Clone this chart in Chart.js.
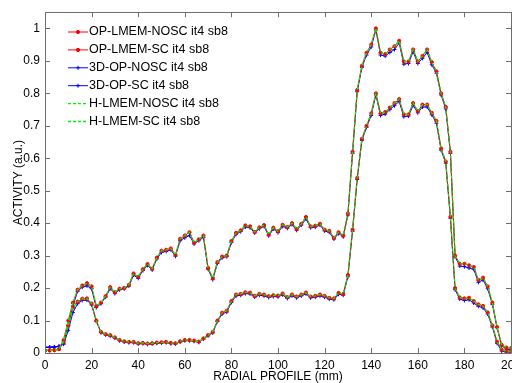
<!DOCTYPE html>
<html>
<head>
<meta charset="utf-8">
<script src="https://cdn.jsdelivr.net/npm/chart.js@4/dist/chart.umd.min.js"></script>
<style>
  html, body { margin: 0; padding: 0; background: #fff; overflow: hidden; }
  #wrap { width: 530px; height: 383px; }
</style>
</head>
<body>
<div id="wrap"><canvas id="chartjs-0" width="530" height="383"></canvas></div>
<script>
// radial positions (mm)
var xs = [0,2,4,6,8,10,12,14,16,18,20,22,24,26,28,30,32,34,36,38,
  40,42,44,46,48,50,52,54,56,58,60,62,64,66,68,70,72,74,76,78,
  80,82,84,86,88,90,92,94,96,98,100,102,104,106,108,110,112,114,116,118,
  120,122,124,126,128,130,132,134,136,138,140,142,144,146,148,150,152,154,156,158,
  160,162,164,166,168,170,172,174,176,178,180,182,184,186,188,190,192,194,196,198,200];

// OP-LMEM (red)
var lmemNosc = [.008,.008,.009,.012,.04,.10,.155,.195,.208,.215,
  .205,.145,.155,.175,.203,.187,.198,.20,.21,.245,
  .235,.258,.274,.26,.294,.315,.318,.322,.302,.352,
  .362,.372,.34,.35,.362,.262,.231,.28,.297,.30,
  .345,.37,.378,.393,.39,.373,.387,.394,.365,.386,
  .375,.395,.388,.40,.382,.398,.419,.39,.392,.398,
  .38,.376,.355,.372,.362,.43,.62,.81,.885,.925,
  .95,1.0,.925,.921,.935,.945,.962,.898,.898,.935,
  .898,.915,.935,.896,.868,.80,.758,.62,.30,.275,
  .275,.27,.265,.225,.232,.205,.155,.08,.025,.017,
  .015];
var lmemSc = [.008,.008,.009,.012,.035,.085,.14,.158,.167,.168,
  .152,.10,.065,.058,.055,.048,.04,.036,.034,.034,
  .03,.031,.029,.03,.032,.033,.034,.031,.03,.036,
  .04,.04,.038,.035,.045,.055,.065,.10,.124,.13,
  .16,.18,.182,.187,.186,.176,.182,.18,.175,.178,
  .177,.183,.172,.18,.174,.18,.186,.174,.176,.18,
  .176,.17,.168,.185,.182,.24,.38,.54,.66,.70,
  .738,.80,.738,.742,.756,.77,.782,.735,.735,.77,
  .745,.765,.765,.74,.715,.63,.59,.42,.20,.171,
  .168,.17,.16,.15,.145,.125,.085,.035,.01,.006,
  .006];

// 3D-OP (blue)
var op3dNosc = [.018,.018,.019,.021,.03,.085,.145,.19,.203,.207,
  .198,.14,.152,.172,.198,.183,.195,.198,.206,.24,
  .23,.254,.27,.256,.29,.31,.313,.318,.298,.346,
  .355,.362,.336,.346,.356,.258,.226,.276,.293,.297,
  .34,.366,.374,.388,.386,.37,.383,.39,.361,.382,
  .371,.39,.384,.396,.378,.394,.413,.386,.388,.394,
  .376,.372,.351,.368,.358,.425,.615,.805,.88,.918,
  .943,.995,.918,.915,.926,.935,.955,.89,.892,.928,
  .892,.908,.926,.888,.862,.795,.752,.615,.297,.268,
  .266,.262,.258,.218,.225,.198,.15,.078,.022,.012,
  .01];
var op3dSc = [.017,.018,.018,.02,.027,.07,.125,.152,.162,.163,
  .148,.098,.063,.056,.052,.046,.038,.034,.032,.032,
  .028,.029,.027,.028,.03,.031,.032,.029,.028,.034,
  .038,.038,.036,.033,.043,.053,.062,.097,.12,.126,
  .156,.176,.178,.183,.182,.172,.178,.176,.171,.174,
  .173,.179,.168,.176,.17,.176,.182,.17,.172,.176,
  .172,.166,.164,.181,.178,.235,.375,.535,.655,.695,
  .732,.795,.732,.736,.75,.762,.775,.728,.73,.763,
  .74,.758,.758,.734,.708,.625,.585,.415,.195,.166,
  .162,.164,.154,.144,.139,.12,.08,.03,.006,.003,
  .003];

// H-LMEM (green) - sits right on the OP-LMEM curves
var hlmemNosc = lmemNosc;
var hlmemSc = lmemSc;

var seriesNames = ["OP-LMEM-NOSC it4 sb8", "OP-LMEM-SC it4 sb8", "3D-OP-NOSC it4 sb8",
  "3D-OP-SC it4 sb8", "H-LMEM-NOSC it4 sb8", "H-LMEM-SC it4 sb8"];
var seriesValues = [lmemNosc, lmemSc, op3dNosc, op3dSc, hlmemNosc, hlmemSc];
var seriesColors = ["#ff0000", "#ff0000", "#0000ff", "#0000ff", "#00ee00", "#00ee00"];
var seriesMarkers = ["circle", "circle", "cross", "cross", false, false];

var xTicks = [0, 20, 40, 60, 80, 100, 120, 140, 160, 180, 200];
var yTicks = [0, 0.1, 0.2, 0.3, 0.4, 0.5, 0.6, 0.7, 0.8, 0.9, 1];
var yTickLabels = ["0", "0.1", "0.2", "0.3", "0.4", "0.5", "0.6", "0.7", "0.8", "0.9", "1"];

var FONT = "'Liberation Sans', Arial, sans-serif";

function toPoints(vals) {
  var pts = [];
  for (var i = 0; i < xs.length; i++) pts.push({ x: xs[i], y: vals[i] });
  return pts;
}

var datasets = [];
for (var i = 0; i < seriesNames.length; i++) {
  var isGreen = seriesMarkers[i] === false;
  datasets.push({
    label: seriesNames[i],
    data: toPoints(seriesValues[i]),
    borderColor: seriesColors[i],
    backgroundColor: seriesColors[i],
    borderWidth: isGreen ? 1.3 : 1,
    borderDash: isGreen ? [3, 2] : [],
    pointStyle: isGreen ? false : seriesMarkers[i],
    pointRadius: isGreen ? 0 : (seriesMarkers[i] === "cross" ? 2 : 1.6),
    pointBorderWidth: 1,
    tension: 0,
    order: isGreen ? 0 : (seriesColors[i] === "#ff0000" ? 1 : 2)
  });
}

// matlab style box, inward ticks and legend inside the axes
var matlabFrame = {
  id: "matlabFrame",
  afterDraw: function(chart) {
    var ctx = chart.ctx, a = chart.chartArea;
    var xs_ = chart.scales.x, ys_ = chart.scales.y;
    ctx.save();
    ctx.strokeStyle = "#6e6e6e";
    ctx.lineWidth = 1;
    ctx.beginPath();
    ctx.rect(Math.round(a.left) + 0.5, Math.round(a.top) + 0.5, Math.round(a.right - a.left), Math.round(a.bottom - a.top));
    xTicks.forEach(function(v) {
      var px = Math.round(xs_.getPixelForValue(v)) + 0.5;
      ctx.moveTo(px, a.bottom); ctx.lineTo(px, a.bottom - 5);
      ctx.moveTo(px, a.top); ctx.lineTo(px, a.top + 5);
    });
    yTicks.forEach(function(v) {
      var py = Math.round(ys_.getPixelForValue(v)) + 0.5;
      ctx.moveTo(a.left, py); ctx.lineTo(a.left + 5, py);
      ctx.moveTo(a.right, py); ctx.lineTo(a.right - 5, py);
    });
    ctx.stroke();

    // legend
    ctx.font = "12.5px " + FONT;
    ctx.textBaseline = "middle";
    ctx.fillStyle = "#000";
    chart.data.datasets.forEach(function(ds, k) {
      var ly = 32 + k * 17.9;
      ctx.strokeStyle = ds.borderColor;
      ctx.lineWidth = ds.borderWidth;
      ctx.setLineDash(ds.borderDash);
      ctx.beginPath(); ctx.moveTo(68, ly); ctx.lineTo(88, ly); ctx.stroke();
      ctx.setLineDash([]);
      if (ds.pointStyle) {
        Chart.helpers.drawPoint(ctx, { pointStyle: ds.pointStyle, radius: ds.pointRadius, borderWidth: 1, rotation: 0 }, 78, ly);
        if (ds.pointStyle === "circle") { ctx.fillStyle = ds.borderColor; ctx.beginPath(); ctx.arc(78, ly, 1.6, 0, Math.PI * 2); ctx.fill(); }
      }
      ctx.fillStyle = "#000";
      ctx.fillText(ds.label, 89, ly);
    });
    ctx.restore();
  }
};

var ctx = document.getElementById("chartjs-0");
var myChart = new Chart(ctx, {
  type: "line",
  data: { datasets: datasets },
  options: {
    responsive: false,
    animation: false,
    events: [],
    layout: { autoPadding: false, padding: { top: 10, right: 19, left: 0, bottom: 0 } },
    plugins: { legend: { display: false }, tooltip: { enabled: false } },
    scales: {
      x: {
        type: "linear", min: 0, max: 200,
        afterBuildTicks: function(s) { s.ticks = xTicks.map(function(v) { return { value: v }; }); },
        afterFit: function(s) { s.height = 30; },
        grid: { display: false, drawTicks: false },
        border: { display: false },
        ticks: { color: "#000", font: { family: FONT, size: 12 }, padding: 5, maxRotation: 0, autoSkip: false },
        title: { display: true, text: "RADIAL PROFILE (mm)", color: "#000", font: { family: FONT, size: 12 }, padding: { top: 0, bottom: -1 } }
      },
      y: {
        type: "linear", min: 0, max: 1.05,
        afterBuildTicks: function(s) { s.ticks = yTicks.map(function(v) { return { value: v }; }); },
        afterFit: function(s) { s.width = 45; },
        grid: { display: false, drawTicks: false },
        border: { display: false },
        ticks: {
          color: "#000", font: { family: FONT, size: 12 }, padding: 5,
          callback: function(v, idx) { return yTickLabels[idx]; }
        },
        title: { display: true, text: "ACTIVITY (a.u.)", color: "#000", font: { family: FONT, size: 12 }, padding: { top: 11, bottom: 0 } }
      }
    }
  },
  plugins: [matlabFrame]
});
</script>
</body>
</html>
